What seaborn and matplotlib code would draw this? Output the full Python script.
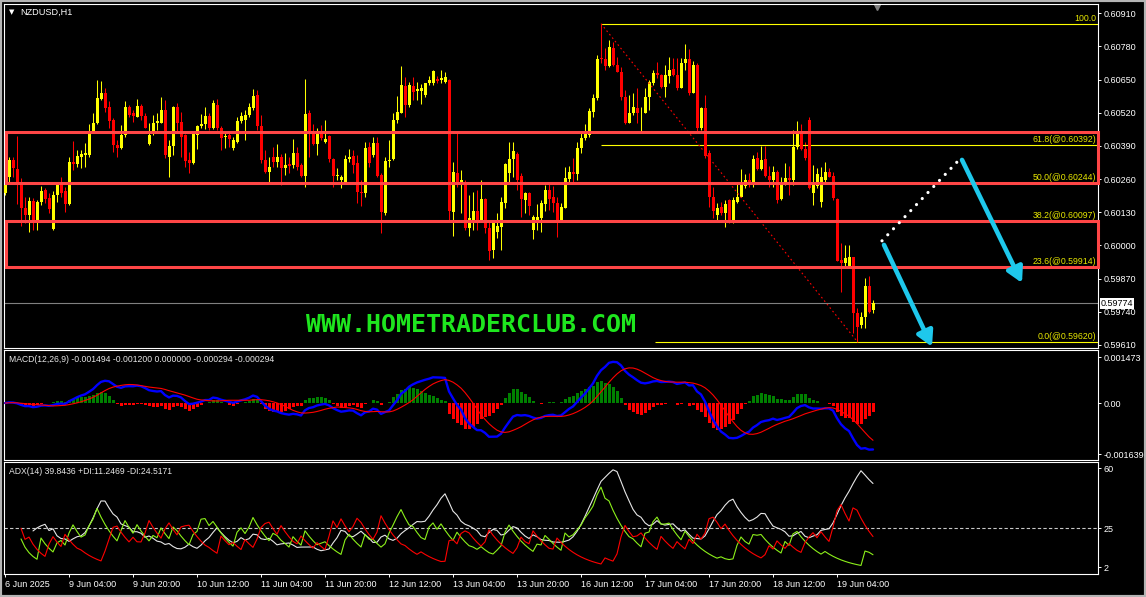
import numpy as np
import pandas as pd
import matplotlib
matplotlib.use("Agg")
import matplotlib.pyplot as plt
import seaborn as sns
from matplotlib.patches import Rectangle
from matplotlib.transforms import blended_transform_factory

# NZDUSD H1 candles, 6 Jun 12:00 -> 19 Jun 13:00, prices in points (1e-5)
opens = [
    60204, 60270, 60335, 60300, 60244, 60146, 60119, 60174, 60100, 60172,
    60217, 60185, 60063, 60198, 60237, 60215, 60163, 60326, 60319, 60348,
    60355, 60355, 60446, 60479, 60573, 60596, 60541, 60492, 60394, 60381,
    60433, 60544, 60518, 60505, 60547, 60509, 60396, 60450, 60479, 60481,
    60531, 60348, 60390, 60544, 60485, 60433, 60335, 60322, 60433, 60466,
    60476, 60507, 60462, 60551, 60462, 60424, 60433, 60381, 60407, 60489,
    60492, 60511, 60537, 60590, 60468, 60335, 60289, 60345, 60328, 60348,
    60302, 60318, 60315, 60361, 60315, 60272, 60518, 60439, 60396, 60442,
    60407, 60429, 60338, 60272, 60257, 60250, 60338, 60351, 60322, 60211,
    60207, 60387, 60355, 60403, 60276, 60126, 60331, 60338, 60492, 60520,
    60625, 60551, 60625, 60607, 60607, 60590, 60635, 60638, 60651, 60648,
    60642, 60648, 60129, 60285, 60244, 60250, 60068, 60100, 60133, 60100,
    60181, 60068, 59982, 60054, 60074, 60165, 60283, 60338, 60358, 60272,
    60178, 60207, 60061, 60100, 60106, 60163, 60217, 60191, 60166, 60100,
    60146, 60259, 60289, 60280, 60381, 60420, 60433, 60524, 60579, 60733,
    60730, 60703, 60775, 60707, 60681, 60583, 60481, 60518, 60537, 60518,
    60518, 60583, 60635, 60677, 60668, 60620, 60664, 60690, 60668, 60618,
    60714, 60730, 60596, 60707, 60459, 60537, 60361, 60189, 60119, 60152,
    60126, 60178, 60100, 60172, 60191, 60233, 60257, 60250, 60342, 60298,
    60338, 60272, 60257, 60289, 60181, 60250, 60263, 60257, 60387, 60439,
    60377, 60490, 60207, 60231, 60172, 60257, 60289, 60272, 60181, 59943,
    59930, 59917, 59956, 59734, 59688, 59721, 59841, 59747,
]
highs = [
    60244, 60348, 60348, 60429, 60263, 60191, 60191, 60185, 60178, 60233,
    60224, 60204, 60215, 60250, 60270, 60230, 60348, 60411, 60374, 60374,
    60400, 60475, 60518, 60648, 60644, 60616, 60564, 60498, 60413, 60472,
    60564, 60551, 60531, 60573, 60554, 60518, 60479, 60511, 60518, 60583,
    60570, 60413, 60547, 60557, 60524, 60436, 60368, 60439, 60472, 60515,
    60544, 60518, 60568, 60573, 60466, 60439, 60439, 60426, 60505, 60524,
    60531, 60557, 60612, 60609, 60511, 60374, 60348, 60387, 60398, 60358,
    60361, 60348, 60416, 60387, 60322, 60651, 60531, 60476, 60459, 60472,
    60492, 60433, 60342, 60302, 60276, 60355, 60378, 60374, 60355, 60257,
    60407, 60407, 60426, 60426, 60283, 60348, 60413, 60518, 60586, 60703,
    60659, 60642, 60659, 60642, 60632, 60638, 60662, 60688, 60664, 60688,
    60681, 60651, 60328, 60439, 60296, 60257, 60198, 60211, 60217, 60257,
    60185, 60093, 60100, 60126, 60191, 60322, 60407, 60407, 60368, 60285,
    60211, 60211, 60119, 60163, 60178, 60237, 60241, 60233, 60191, 60166,
    60309, 60312, 60342, 60404, 60439, 60476, 60537, 60594, 60746, 60869,
    60773, 60805, 60799, 60740, 60701, 60610, 60590, 60599, 60616, 60544,
    60616, 60648, 60688, 60720, 60672, 60707, 60740, 60733, 60733, 60733,
    60790, 60769, 60724, 60716, 60541, 60590, 60374, 60230, 60165, 60172,
    60178, 60181, 60191, 60243, 60298, 60280, 60283, 60355, 60368, 60391,
    60390, 60312, 60312, 60296, 60270, 60322, 60312, 60453, 60489, 60476,
    60407, 60505, 60315, 60302, 60309, 60325, 60302, 60289, 60185, 60008,
    60002, 60002, 59956, 59754, 59741, 59871, 59880, 59786,
]
lows = [
    60198, 60250, 60270, 60163, 60076, 60087, 60054, 60061, 60061, 60159,
    60166, 60126, 60061, 60172, 60191, 60129, 60159, 60296, 60309, 60305,
    60309, 60348, 60442, 60476, 60568, 60524, 60459, 60368, 60348, 60377,
    60426, 60502, 60485, 60502, 60492, 60459, 60394, 60433, 60453, 60479,
    60342, 60270, 60355, 60446, 60348, 60309, 60285, 60320, 60378, 60459,
    60456, 60453, 60455, 60453, 60374, 60381, 60387, 60374, 60400, 60479,
    60413, 60505, 60531, 60453, 60322, 60283, 60250, 60309, 60309, 60237,
    60276, 60283, 60302, 60296, 60270, 60230, 60348, 60394, 60355, 60413,
    60403, 60328, 60230, 60257, 60224, 60246, 60325, 60283, 60166, 60153,
    60191, 60309, 60348, 60270, 60048, 60119, 60309, 60335, 60479, 60518,
    60505, 60544, 60570, 60570, 60554, 60583, 60629, 60629, 60638, 60638,
    60635, 60100, 60035, 60230, 60126, 60061, 60037, 60061, 60061, 60093,
    60048, 59943, 59950, 60028, 59982, 60146, 60250, 60270, 60217, 60113,
    60126, 60119, 60024, 60061, 60054, 60133, 60139, 60129, 60032, 60093,
    60146, 60250, 60240, 60257, 60361, 60413, 60426, 60502, 60570, 60714,
    60688, 60701, 60703, 60681, 60570, 60476, 60479, 60511, 60479, 60446,
    60518, 60531, 60629, 60655, 60616, 60583, 60635, 60662, 60609, 60616,
    60688, 60590, 60596, 60439, 60453, 60342, 60152, 60106, 60100, 60119,
    60071, 60087, 60087, 60165, 60191, 60224, 60230, 60230, 60296, 60296,
    60270, 60230, 60230, 60168, 60178, 60237, 60198, 60237, 60377, 60374,
    60335, 60220, 60159, 60224, 60152, 60250, 60267, 60178, 59937, 59819,
    59917, 59917, 59656, 59620, 59675, 59675, 59734, 59734,
]
closes = [
    60237, 60335, 60302, 60237, 60146, 60119, 60174, 60100, 60172, 60213,
    60182, 60142, 60198, 60237, 60207, 60163, 60326, 60319, 60352, 60358,
    60361, 60439, 60479, 60577, 60596, 60540, 60489, 60394, 60381, 60433,
    60544, 60511, 60509, 60547, 60509, 60462, 60433, 60481, 60489, 60531,
    60355, 60390, 60544, 60481, 60426, 60332, 60322, 60437, 60466, 60476,
    60507, 60462, 60560, 60459, 60420, 60429, 60416, 60413, 60489, 60507,
    60511, 60541, 60586, 60466, 60335, 60289, 60309, 60325, 60348, 60302,
    60315, 60312, 60361, 60309, 60272, 60515, 60439, 60396, 60439, 60420,
    60416, 60338, 60272, 60276, 60270, 60338, 60348, 60315, 60211, 60204,
    60383, 60322, 60403, 60272, 60129, 60331, 60335, 60492, 60524, 60629,
    60551, 60629, 60603, 60612, 60616, 60635, 60648, 60684, 60644, 60655,
    60659, 60133, 60289, 60244, 60257, 60068, 60106, 60133, 60100, 60181,
    60068, 59980, 60093, 60076, 60172, 60318, 60338, 60370, 60257, 60181,
    60207, 60155, 60110, 60113, 60168, 60217, 60182, 60166, 60100, 60152,
    60263, 60289, 60280, 60381, 60422, 60439, 60528, 60579, 60730, 60730,
    60703, 60779, 60707, 60681, 60583, 60481, 60518, 60541, 60518, 60520,
    60583, 60642, 60677, 60668, 60620, 60668, 60688, 60668, 60616, 60716,
    60730, 60596, 60707, 60459, 60537, 60351, 60191, 60133, 60146, 60126,
    60163, 60100, 60178, 60191, 60237, 60257, 60246, 60338, 60298, 60335,
    60272, 60257, 60289, 60178, 60250, 60263, 60257, 60387, 60439, 60377,
    60342, 60224, 60246, 60280, 60270, 60289, 60270, 60185, 59940, 59930,
    59950, 59956, 59734, 59682, 59721, 59841, 59741, 59774,
]

time_labels = ["6 Jun 2025", "9 Jun 04:00", "9 Jun 20:00", "10 Jun 12:00",
               "11 Jun 04:00", "11 Jun 20:00", "12 Jun 12:00", "13 Jun 04:00",
               "13 Jun 20:00", "16 Jun 12:00", "17 Jun 04:00", "17 Jun 20:00",
               "18 Jun 12:00", "19 Jun 04:00"]
price_ticks = [0.60910, 0.60780, 0.60650, 0.60520, 0.60390, 0.60260,
               0.60130, 0.60000, 0.59870, 0.59740, 0.59610]
fib_levels = [0.0, 23.6, 38.2, 50.0, 61.8, 100.0]
fib_low, fib_high = 0.596196, 0.608689
zones = [(0.60244, 0.60445), (0.59914, 0.60097)]
last_price = 0.59774

df = pd.DataFrame({"open": opens, "high": highs, "low": lows, "close": closes}) / 1e5
idx = np.arange(len(df))

# --- indicators (MACD 12,26,9 and ADX 14) ---
ema_fast = df["close"].ewm(span=12).mean()
ema_slow = df["close"].ewm(span=26).mean()
macd = ema_fast - ema_slow
signal = macd.rolling(9, min_periods=1).mean()
osma = macd - signal

up_move = df["high"].diff()
down_move = -df["low"].diff()
pdm = up_move.clip(lower=0).where(up_move > down_move, 0.0)
ndm = down_move.clip(lower=0).where(down_move > up_move, 0.0)
prev_close = df["close"].shift()
tr = pd.concat([df["high"] - df["low"], (df["high"] - prev_close).abs(),
                (df["low"] - prev_close).abs()], axis=1).max(axis=1)
pdi = (100 * pdm / tr).iloc[1:].ewm(span=14, min_periods=4).mean()
ndi = (100 * ndm / tr).iloc[1:].ewm(span=14, min_periods=4).mean()
dx = 100 * (pdi - ndi).abs() / (pdi + ndi)
adx = dx.ewm(span=14, min_periods=4).mean()

# --- style ---
sns.set_style("dark", {"axes.facecolor": "black", "figure.facecolor": "black",
                       "axes.edgecolor": "white", "text.color": "white",
                       "xtick.color": "white", "ytick.color": "white",
                       "axes.grid": False})
plt.rcParams["font.family"] = ["Liberation Sans", "DejaVu Sans"]

W, H = 1146, 597
fig = plt.figure(figsize=(W / 100, H / 100), dpi=100)
ax1 = fig.add_axes([4 / W, 1 - 348 / H, 1094 / W, 344 / H])
ax2 = fig.add_axes([4 / W, 1 - 460 / H, 1094 / W, 110 / H])
ax3 = fig.add_axes([4 / W, 1 - 574 / H, 1094 / W, 112 / H])

xmax = 273.25
for ax in (ax1, ax2, ax3):
    ax.set_facecolor("black")
    ax.set_xlim(-0.25, xmax)
    for sp in ax.spines.values():
        sp.set_color("white")
        sp.set_linewidth(0.8)
    ax.yaxis.tick_right()
    ax.tick_params(axis="y", colors="white", labelsize=6.5, length=2.5,
                   width=0.7, pad=1.5)
    ax.tick_params(axis="x", bottom=False, labelbottom=False)

# --- price panel ---
ax1.set_ylim(0.59598, 0.60946)
ax1.set_yticks(price_ticks)
ax1.set_yticklabels([f"{p:.5f}" for p in price_ticks])

ax1.axhline(last_price, color="#808080", lw=0.8, zorder=1)

up = df["close"] >= df["open"]
colors = np.where(up, "#ffff00", "#ff0000")
body_lo = np.minimum(df["open"], df["close"])
body_h = np.maximum((df["close"] - df["open"]).abs(), 0.00002)
ax1.vlines(idx, df["low"], df["high"], colors=colors, lw=0.75, zorder=2)
ax1.bar(idx, body_h, bottom=body_lo, width=0.75, color=colors, lw=0, zorder=3)

# fibonacci retracement
rng = fib_high - fib_low
trans1 = blended_transform_factory(ax1.transAxes, ax1.transData)
for lvl in fib_levels:
    p = fib_low + rng * lvl / 100
    start = 162.5 if lvl == 0 else 149
    ax1.hlines(p, start, xmax, color="#ffff00", lw=0.8, zorder=2)
    label = "100.0" if lvl == 100 else f"{lvl:.1f}(@{p:.5f})"
    ax1.annotate(label, xy=(1, p), xycoords=trans1, xytext=(-1.5, 0.8),
                 textcoords="offset points", ha="right", va="bottom",
                 color="#e8e800", fontsize=6.3)
ax1.plot([149, 213.25], [fib_high, fib_low], color="#ff0000", lw=0.8,
         ls=(0, (1.5, 2.5)), zorder=4)

# supply / demand boxes
for lo, hi in zones:
    ax1.add_patch(Rectangle((0.3, lo), xmax - 0.3, hi - lo, fill=False,
                            ec="#ff4646", lw=2.2, zorder=5, clip_on=False))

# projected path
ax1.plot([219.25, 238.75], [0.60018, 0.60339], color="white", lw=2.3,
         ls=(0, (0.01, 2.6)), dash_capstyle="round", zorder=6)
arrow = dict(arrowstyle="-|>,head_length=0.9,head_width=0.5", color="#1ec8ec",
             lw=3.3, shrinkA=0, shrinkB=0)
ax1.annotate("", xy=(231.75, 0.59603), xytext=(219.75, 0.60002),
             arrowprops=arrow, zorder=6)
ax1.annotate("", xy=(254.25, 0.59853), xytext=(239.25, 0.60335),
             arrowprops=arrow, zorder=6)

ax1.text(1.0025, last_price, "0.59774", transform=trans1, ha="left",
         va="center", fontsize=6.5, color="black",
         bbox=dict(boxstyle="square,pad=0.12", fc="white", ec="none"))
ax1.plot([218], [0.60933], marker="v", color="#808080", ms=5, clip_on=False)

fig.text(306 / W, 1 - 325 / H, "WWW.HOMETRADERCLUB.COM", color="#1ee61e",
         fontsize=18, fontweight="bold", family="DejaVu Sans Mono",
         ha="left", va="center")
fig.text(9 / W, 1 - 12 / H, "\u25bc", color="white", fontsize=5,
         family="DejaVu Sans", ha="left", va="center")
fig.text(20 / W, 1 - 12 / H, "NZDUSD,H1", color="white", fontsize=6.6,
         ha="left", va="center")

# --- MACD panel ---
ax2.set_ylim(-0.001832, 0.001708)
ax2.bar(idx, osma, width=0.75, color=np.where(osma >= 0, "#008000", "#ff0000"),
        lw=0, zorder=2)
sns.lineplot(x=idx, y=macd.values, ax=ax2, color="#0000ff", lw=1.7, zorder=3)
sns.lineplot(x=idx, y=signal.values, ax=ax2, color="#ff0000", lw=0.8, zorder=4)
ax2.set_yticks([0.001473, 0.0, -0.001639])
ax2.set_yticklabels(["0.001473", "0.00", "-0.001639"])
ax2.set_xlabel("")
fig.text(9 / W, 1 - 359 / H,
         "MACD(12,26,9) -0.001494 -0.001200 0.000000 -0.000294 -0.000294",
         color="#e6e6e6", fontsize=6.2, ha="left", va="center")

# --- ADX panel ---
ax3.set_ylim(-1.9, 63.7)
ax3.axhline(25, color="#c8c8c8", lw=0.8, ls=(0, (3, 2)), zorder=1)
sns.lineplot(x=adx.index, y=adx.values, ax=ax3, color="#e6e6e6", lw=0.8)
sns.lineplot(x=pdi.index, y=pdi.values, ax=ax3, color="#8cf01a", lw=0.8)
sns.lineplot(x=ndi.index, y=ndi.values, ax=ax3, color="#ff0000", lw=0.8)
ax3.set_yticks([60, 25, 2])
ax3.set_yticklabels(["60", "25", "2"])
ax3.set_xticks(np.arange(0, 16 * len(time_labels), 16))
ax3.set_xticklabels(time_labels, ha="left")
ax3.tick_params(axis="x", bottom=True, labelbottom=True, colors="white",
                labelsize=6.5, length=2.5, width=0.7, pad=2)
ax3.set_xlim(-0.25, xmax)
ax3.set_xlabel("")
fig.text(9 / W, 1 - 472 / H, "ADX(14) 39.8436 +DI:11.2469 -DI:24.5171",
         color="#e6e6e6", fontsize=6.2, ha="left", va="center")

fig.patches.append(Rectangle((0, 0), 1, 1, transform=fig.transFigure,
                             fill=False, ec="#b4b4b4", lw=3))

fig.savefig("out.png", dpi=100, facecolor="black")
